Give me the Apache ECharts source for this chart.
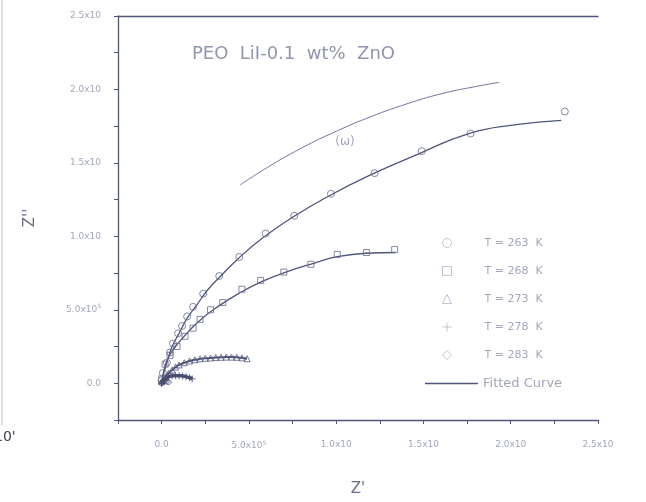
<!DOCTYPE html>
<html>
<head>
<meta charset="utf-8">
<script src="https://cdn.jsdelivr.net/npm/echarts@6/dist/echarts.min.js"></script>
<style>
  html, body { margin: 0; padding: 0; background: #ffffff; }
  #chart { width: 646px; height: 502px; }
</style>
</head>
<body>
<div id="chart"></div>
<script>
// Nyquist plot of PEO LiI-0.1 wt% ZnO at several temperatures (Z'' vs Z')

const temperatures = ['T = 263  K', 'T = 268  K', 'T = 273  K', 'T = 278  K', 'T = 283  K'];
const fitName = 'Fitted Curve';

// measured points [Z', Z'']
const s263 = [[0.0,0.02],[0.007,0.07],[0.03,0.14],[0.048,0.21],[0.065,0.27],[0.094,0.34],[0.117,0.39],[0.146,0.455],[0.18,0.52],[0.238,0.61],[0.33,0.73],[0.445,0.86],[0.596,1.02],[0.76,1.14],[0.97,1.29],[1.22,1.43],[1.49,1.58],[1.77,1.70],[2.31,1.85]];
const s268 = [[0.0,0.03],[0.02,0.13],[0.048,0.19],[0.088,0.25],[0.134,0.32],[0.18,0.375],[0.22,0.435],[0.28,0.50],[0.35,0.55],[0.46,0.64],[0.567,0.70],[0.70,0.757],[0.855,0.81],[1.006,0.877],[1.173,0.89],[1.335,0.91]];
const s273 = [[0.0,0.01],[0.02,0.04],[0.04,0.07],[0.06,0.09],[0.08,0.11],[0.1,0.125],[0.13,0.14],[0.16,0.152],[0.19,0.16],[0.22,0.166],[0.25,0.17],[0.28,0.172],[0.31,0.175],[0.34,0.177],[0.37,0.178],[0.40,0.178],[0.43,0.177],[0.46,0.173],[0.49,0.167]];
const s278 = [[0.0,0.0],[0.01,0.02],[0.025,0.035],[0.04,0.045],[0.06,0.05],[0.08,0.052],[0.1,0.052],[0.12,0.05],[0.14,0.045],[0.16,0.038],[0.175,0.03]];
const s283 = [[0.0,0.0],[0.005,0.008],[0.01,0.012],[0.02,0.014],[0.03,0.012],[0.04,0.008]];

// fitted curves
const fit263 = [[0,0],[0.01,0.06],[0.03,0.14],[0.06,0.25],[0.1,0.34],[0.15,0.45],[0.2,0.53],[0.26,0.63],[0.33,0.72],[0.44,0.85],[0.58,0.99],[0.75,1.13],[0.95,1.27],[1.2,1.42],[1.47,1.56],[1.76,1.70],[2.03,1.76],[2.29,1.79]];
const fit268 = [[0,0],[0.02,0.12],[0.05,0.2],[0.1,0.28],[0.16,0.36],[0.23,0.44],[0.32,0.52],[0.44,0.61],[0.57,0.69],[0.72,0.76],[0.88,0.82],[1.0,0.86],[1.17,0.885],[1.34,0.89]];
const fit273 = s273;
const fit278 = s278;

// frequency direction guide
const omegaGuide = [[0.45,1.35],[0.6,1.465],[0.8,1.60],[1.0,1.715],[1.2,1.815],[1.4,1.90],[1.6,1.97],[1.8,2.02],[1.934,2.048]];
const omegaLabelAt = [[1.05,1.64]];

// tick labels
const xTickLabels = { '0': '0.0', '0.5': '5.0x10{s|5}', '1': '1.0x10', '1.5': '1.5x10', '2': '2.0x10', '2.5': '2.5x10' };
const yTickLabels = { '0': '0.0', '0.5': '5.0x10{s|5}', '1': '1.0x10', '1.5': '1.5x10', '2': '2.0x10', '2.5': '2.5x10' };

const ink = '#4f5579';
const markInk = '#676c8e';
const faint = '#a2a7bc';
const font = 'DejaVu Sans';

const symbols = ['circle', 'rect', 'triangle', 'path://M5,0L5,10M0,5L10,5', 'diamond'];
const pointSets = [s263, s268, s273, s278, s283];
const sizes = [7, 6, 6, 7, 6];
const markColors = [markInk, markInk, '#555a7c', '#474c6e', '#474c6e'];

function tickFormatter(map) {
  return function (v) {
    const key = String(Math.round(v * 100) / 100);
    return map[key] !== undefined ? map[key] : '';
  };
}

const labelRich = { s: { fontSize: 6, color: faint, verticalAlign: 'top', padding: [0, 0, 6, 0] } };

const chart = echarts.init(document.getElementById('chart'), null, { renderer: 'canvas' });

const series = [];
[fit263, fit268, fit273, fit278].forEach(function (d, i) {
  series.push({
    name: fitName, type: 'line', data: d, smooth: true, symbol: 'none',
    lineStyle: { color: ink, width: i === 3 ? 3.5 : (i === 2 ? 2 : 1.3) }, itemStyle: { color: ink }, z: 2
  });
});
series.push({
  name: 'omega', type: 'line', data: omegaGuide, smooth: true, symbol: 'none',
  lineStyle: { color: '#7277a0', width: 1 }, z: 2
});
series.push({
  name: 'omegaLabel', type: 'scatter', data: omegaLabelAt, symbolSize: 0,
  label: { show: true, position: 'inside', formatter: '(ω)', color: '#8a8fae', fontSize: 12, fontFamily: font }
});
pointSets.forEach(function (d, i) {
  series.push({
    name: temperatures[i], type: 'scatter', data: d,
    symbol: symbols[i], symbolSize: sizes[i],
    itemStyle: { color: 'rgba(0,0,0,0)', borderColor: markColors[i], borderWidth: 1 }, z: 3
  });
});

const legendItemStyle = { color: 'rgba(0,0,0,0)', borderColor: '#b3b7c9', borderWidth: 1 };

chart.setOption({
  backgroundColor: '#ffffff',
  animation: false,
  grid: { left: 118, right: 48, top: 16, bottom: 77 },
  title: {
    text: 'PEO  LiI-0.1  wt%  ZnO',
    left: 187, top: 40,
    textStyle: { fontFamily: font, fontSize: 18, fontWeight: 'normal', color: '#9096b0' }
  },
  legend: [
    {
      data: temperatures.map(function (n, i) {
        return { name: n, icon: symbols[i], itemStyle: legendItemStyle };
      }),
      orient: 'vertical', left: 437, top: 232,
      itemWidth: 9, itemHeight: 9, itemGap: 16,
      textStyle: { fontFamily: font, fontSize: 11, color: faint, lineHeight: 12, padding: [0, 0, 0, 28] }
    },
    {
      data: [{ name: fitName, icon: 'rect', itemStyle: { color: ink, borderWidth: 0 } }],
      left: 420, top: 372, itemWidth: 53, itemHeight: 1.5, itemGap: 0,
      textStyle: { fontFamily: font, fontSize: 13, color: faint, lineHeight: 13 }
    }
  ],
  xAxis: [
    {
      type: 'value', min: -0.25, max: 2.5, interval: 0.25,
      name: "Z'", nameLocation: 'middle', nameGap: 62,
      nameTextStyle: { fontFamily: font, fontSize: 15, color: '#6a6f85' },
      axisLine: { show: true, onZero: false, lineStyle: { color: ink, width: 1.3 } },
      axisTick: { show: true, length: 4, lineStyle: { color: ink } },
      axisLabel: { formatter: tickFormatter(xTickLabels), margin: 20, fontFamily: font, fontSize: 9, color: faint, rich: labelRich },
      splitLine: { show: false }
    },
    {
      type: 'value', position: 'top', min: -0.25, max: 2.5,
      axisLine: { show: true, onZero: false, lineStyle: { color: ink, width: 1.3 } },
      axisTick: { show: false }, axisLabel: { show: false }, splitLine: { show: false }
    }
  ],
  yAxis: {
    type: 'value', min: -0.25, max: 2.5, interval: 0.25,
    name: "Z''", nameLocation: 'middle', nameGap: 80, nameRotate: 90,
    nameTextStyle: { fontFamily: font, fontSize: 15, color: '#6a6f85' },
    axisLine: { show: true, onZero: false, lineStyle: { color: ink, width: 1.3 } },
    axisTick: { show: true, length: 4, lineStyle: { color: ink } },
    axisLabel: { formatter: tickFormatter(yTickLabels), margin: 17, fontFamily: font, fontSize: 9, color: faint, rich: labelRich },
    splitLine: { show: false }
  },
  graphic: [
    { type: 'line', shape: { x1: 2, y1: 0, x2: 2, y2: 425 }, style: { stroke: '#b8bccb', lineWidth: 1 } },
    { type: 'text', left: -6, top: 430, style: { text: "10'", fontFamily: font, fontSize: 14, fill: '#3c3f52' } }
  ],
  series: series
});
</script>
</body>
</html>
